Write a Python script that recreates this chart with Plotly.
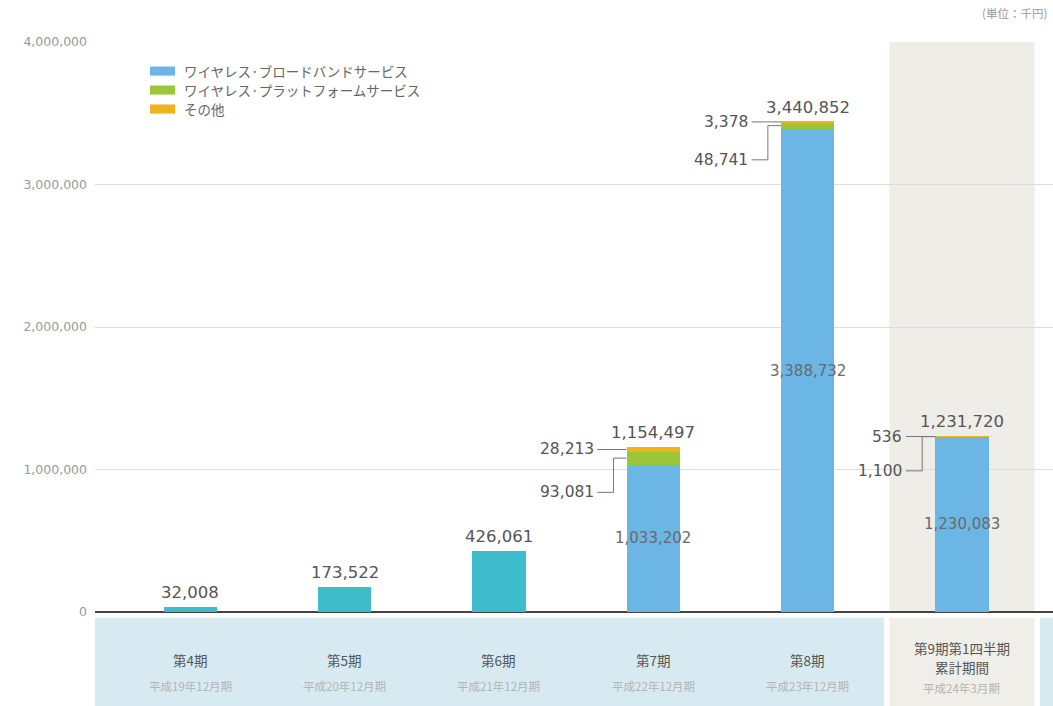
import plotly.graph_objects as go

# Fiscal periods and their sub labels
periods = ["第4期", "第5期", "第6期", "第7期", "第8期", "第9期第1四半期<br>累計期間"]
period_notes = ["平成19年12月期", "平成20年12月期", "平成21年12月期",
                "平成22年12月期", "平成23年12月期", "平成24年3月期"]

# Revenue by segment (thousand yen); early periods are reported as a single total
broadband = [32008, 173522, 426061, 1033202, 3388732, 1230083]
platform = [0, 0, 0, 93081, 48741, 1100]
other = [0, 0, 0, 28213, 3378, 536]
totals = [32008, 173522, 426061, 1154497, 3440852, 1231720]
segmented = [False, False, False, True, True, True]

series_names = ["ワイヤレス·ブロードバンドサービス", "ワイヤレス·プラットフォームサービス", "その他"]

TEAL = "#3fbccc"
BLUE = "#6cb6e6"
GREEN = "#9cc63a"
ORANGE = "#efb320"
series_colors = [BLUE, GREEN, ORANGE]
NUM_FONT = "DejaVu Sans, sans-serif"
JP_FONT = "Noto Sans CJK JP, sans-serif"

x = list(range(len(periods)))
bar_w = 0.345

fig = go.Figure()
# unsegmented totals (teal)
fig.add_trace(go.Bar(
    x=[i for i in x if not segmented[i]],
    y=[broadband[i] for i in x if not segmented[i]],
    width=bar_w, marker=dict(color=TEAL, line=dict(width=0)), showlegend=False,
))
# segmented periods
seg_x = [i for i in x if segmented[i]]
for name, vals, col in zip(series_names, [broadband, platform, other], series_colors):
    fig.add_trace(go.Bar(x=seg_x, y=[vals[i] for i in seg_x], name=name, width=bar_w,
                         marker=dict(color=col, line=dict(width=0)), showlegend=False))

shapes = []
annotations = []

# Highlight band behind the latest (quarterly) period
last = len(periods) - 1
shapes.append(dict(type="rect", xref="x", yref="paper", x0=last - 0.47, x1=last + 0.47,
                   y0=0, y1=1, fillcolor="#eeede8", line=dict(width=0), layer="below"))

# Category strip below the axis
shapes.append(dict(type="rect", xref="x", yref="paper", x0=-0.617, x1=last - 0.505,
                   y0=-0.165, y1=-0.01, fillcolor="#d7eaf1", line=dict(width=0), layer="below"))
shapes.append(dict(type="rect", xref="x", yref="paper", x0=last - 0.47, x1=last + 0.47,
                   y0=-0.165, y1=-0.01, fillcolor="#efeee8", line=dict(width=0), layer="below"))
shapes.append(dict(type="rect", xref="x", yref="paper", x0=last + 0.505, x1=last + 0.7,
                   y0=-0.165, y1=-0.01, fillcolor="#d7eaf1", line=dict(width=0), layer="below"))

# Legend drawn as swatches + labels
for k, (name, col) in enumerate(zip(series_names, series_colors)):
    yc = 0.949 - k * 0.0333
    shapes.append(dict(type="rect", xref="paper", yref="paper", x0=0.0574, x1=0.0835,
                       y0=yc - 0.008, y1=yc + 0.008, fillcolor=col, line=dict(width=0)))
    annotations.append(dict(x=0.0905, y=yc, xref="paper", yref="paper", text=name,
                            showarrow=False, xanchor="left", yanchor="middle",
                            font=dict(family=JP_FONT, size=13.5, color="#666666")))

LABEL_FONT = dict(family=JP_FONT, size=13.5, color="#555555")
NOTE_FONT = dict(family=JP_FONT, size=11.5, color="#b4b4b4")

for i in x:
    # total on top of each bar
    annotations.append(dict(x=i, y=totals[i], xref="x", yref="y", text=f"{totals[i]:,}",
                            showarrow=False, yanchor="bottom", yshift=3,
                            font=dict(family=NUM_FONT, size=16.5, color="#555555")))
    # period labels (one annotation per line)
    lines = periods[i].split("<br>")
    if len(lines) == 2:
        line_y = [-0.063, -0.0965]
        note_y = -0.134
    else:
        line_y = [-0.084]
        note_y = -0.13
    for txt, ly in zip(lines, line_y):
        annotations.append(dict(x=i, y=ly, xref="x", yref="paper", text=txt,
                                showarrow=False, yanchor="middle", font=LABEL_FONT))
    annotations.append(dict(x=i, y=note_y, xref="x", yref="paper", text=period_notes[i],
                            showarrow=False, yanchor="middle", font=NOTE_FONT))

    if not segmented[i]:
        continue

    # broadband value inside the bar
    annotations.append(dict(x=i, y=broadband[i] / 2, xref="x", yref="y",
                            text=f"{broadband[i]:,}", showarrow=False,
                            font=dict(family=NUM_FONT, size=15, color="#6a6a6a")))

    left = i - bar_w / 2
    other_mid = broadband[i] + platform[i] + other[i] / 2
    plat_mid = broadband[i] + platform[i] / 2
    plat_label_y = plat_mid - 240000
    stub = left - 0.19
    elbow = left - 0.085
    line_style = dict(color="#777777", width=1)

    # leader for "other"
    shapes.append(dict(type="line", xref="x", yref="y", x0=stub, x1=left,
                       y0=other_mid, y1=other_mid, line=line_style))
    annotations.append(dict(x=stub - 0.01, y=other_mid, xref="x", yref="y",
                            text=f"{other[i]:,}", showarrow=False, xanchor="right",
                            font=dict(family=NUM_FONT, size=15.5, color="#555555")))
    # elbow leader for platform
    shapes.append(dict(type="path", xref="x", yref="y",
                       path=f"M {stub},{plat_label_y} L {elbow},{plat_label_y} "
                            f"L {elbow},{plat_mid} L {left},{plat_mid}",
                       line=line_style))
    annotations.append(dict(x=stub - 0.01, y=plat_label_y, xref="x", yref="y",
                            text=f"{platform[i]:,}", showarrow=False, xanchor="right",
                            font=dict(family=NUM_FONT, size=15.5, color="#555555")))

# unit note
annotations.append(dict(x=0.996, y=1.05, xref="paper", yref="paper", text="(単位：千円)",
                        showarrow=False, xanchor="right", yanchor="middle",
                        font=dict(family=JP_FONT, size=11.5, color="#999999")))

fig.update_layout(
    width=1053, height=706,
    margin=dict(l=95, r=0, t=42, b=94),
    paper_bgcolor="white", plot_bgcolor="rgba(0,0,0,0)",
    barmode="stack",
    showlegend=False,
    xaxis=dict(range=[-0.617, 5.59], showticklabels=False, showgrid=False,
               zeroline=False, showline=False, ticks=""),
    yaxis=dict(range=[0, 4000000], tickvals=[0, 1000000, 2000000, 3000000, 4000000],
               tickformat=",d", showgrid=True, gridcolor="#dddddd", gridwidth=1,
               zeroline=True, zerolinecolor="#444444", zerolinewidth=2,
               showline=False, ticks="", ticklabelstandoff=7,
               tickfont=dict(family=NUM_FONT, size=12.5, color="#999999")),
    shapes=shapes,
    annotations=annotations,
)

fig.write_html("out.html")
